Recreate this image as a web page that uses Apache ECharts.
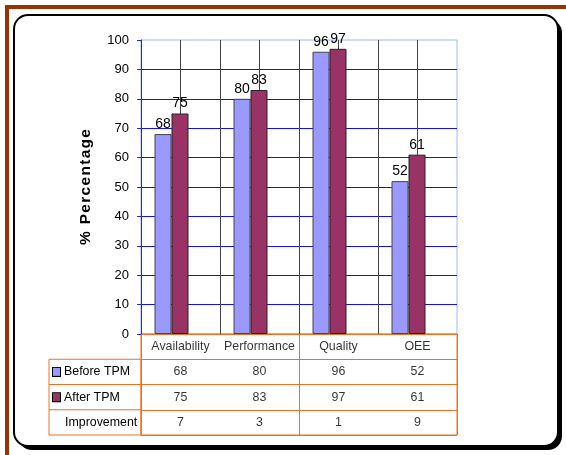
<!DOCTYPE html>
<html>
<head>
<meta charset="utf-8">
<script src="https://cdn.jsdelivr.net/npm/echarts@6/dist/echarts.min.js"></script>
<style>
html, body { margin: 0; padding: 0; background: #fff; }
#main { width: 566px; height: 455px; }
</style>
</head>
<body>
<div id="main"></div>
<script>
// chart data
var categories = ['Availability', 'Performance', 'Quality', 'OEE'];
var beforeTPM = [68, 80, 96, 52];
var afterTPM = [75, 83, 97, 61];
var improvement = [7, 3, 1, 9];
var rowNames = ['Header', 'Before TPM', 'After TPM', 'Improvement'];
var yMin = 0, yMax = 100, yStep = 10;
var yTitle = '% Percentage';

var FONT = "'Liberation Sans', Arial, sans-serif";
var FS_TABLE = 12.4;
var FS_TICK = 13;
var FS_BAR = 14;
var ORANGE = '#f07020';
var BLUE_BAR = '#9999ff';
var PURPLE_BAR = '#993366';

// layout
var gLeft = 141, gTop = 40, gWidth = 316, gHeight = 294;
var tTop = gTop + gHeight, tHeight = 101, legendLeft = 49;
var rowH = tHeight / rowNames.length;

var chart = echarts.init(document.getElementById('main'));

// table cells (header row = category names, then values)
var cells = [];
for (var i = 0; i < categories.length; i++) {
	cells.push([categories[i], rowNames[0], categories[i]]);
	cells.push([categories[i], rowNames[1], String(beforeTPM[i])]);
	cells.push([categories[i], rowNames[2], String(afterTPM[i])]);
	cells.push([categories[i], rowNames[3], String(improvement[i])]);
}

var option = {
	animation: false,
	backgroundColor: '#fff',
	textStyle: { fontFamily: FONT },
	graphic: [
		// brown frame, top and left
		{ type: 'rect', z: -30, shape: { x: 7, y: 7, width: 620, height: 520 },
			style: { fill: 'none', stroke: '#993300', lineWidth: 4 } },
		// rounded box with shadow
		{ type: 'rect', z: -20, shape: { x: 18, y: 19, width: 544, height: 431, r: 14 },
			style: { fill: '#000' } },
		{ type: 'rect', z: -10, shape: { x: 14, y: 15, width: 544, height: 431, r: 14 },
			style: { fill: '#fff', stroke: '#000', lineWidth: 2 } },
		// legend column of the data table
		{ type: 'rect', z: 10, shape: { x: legendLeft, y: tTop + rowH, width: gLeft - legendLeft, height: tHeight - rowH },
			style: { fill: 'none', stroke: ORANGE, lineWidth: 1 } },
		{ type: 'line', z: 10, shape: { x1: legendLeft, y1: tTop + rowH * 2, x2: gLeft, y2: tTop + rowH * 2 },
			style: { stroke: ORANGE, lineWidth: 1 } },
		{ type: 'line', z: 10, shape: { x1: legendLeft, y1: tTop + rowH * 3, x2: gLeft, y2: tTop + rowH * 3 },
			style: { stroke: ORANGE, lineWidth: 1 } }
	],
	grid: [{
		left: gLeft, top: gTop, width: gWidth, height: gHeight,
		show: true, borderColor: '#99bbff', borderWidth: 1,
		outerBoundsMode: 'none'
	}, {
		left: gLeft, top: tTop, width: gWidth, height: tHeight,
		show: true, borderColor: ORANGE, borderWidth: 1,
		outerBoundsMode: 'none'
	}],
	xAxis: [{
		type: 'category', gridIndex: 0, data: categories,
		axisLine: { show: false }, axisTick: { show: false }, axisLabel: { show: false },
		splitLine: { show: false }
	}, {
		// half-category vertical grid lines
		type: 'value', gridIndex: 0, min: 0, max: categories.length * 2, interval: 1,
		axisLine: { show: false }, axisTick: { show: false }, axisLabel: { show: false },
		splitLine: { show: true, showMinLine: false, showMaxLine: false, lineStyle: { color: '#444', width: 1 } }
	}, {
		type: 'category', gridIndex: 1, data: categories,
		axisLine: { show: false }, axisTick: { show: false }, axisLabel: { show: false },
		splitLine: { show: true, lineStyle: { color: ORANGE, width: 1 } }
	}],
	yAxis: [{
		type: 'value', gridIndex: 0, min: yMin, max: yMax, interval: yStep,
		name: yTitle.split('').join('\u200A'),
		nameLocation: 'middle', nameGap: 47, nameRotate: 90,
		nameTextStyle: { fontFamily: FONT, fontSize: 15.5, fontWeight: 'bold', color: '#000' },
		axisLine: { show: true, lineStyle: { color: '#2020ff', width: 1 } },
		axisTick: { show: true, inside: false, length: 4, lineStyle: { color: '#2020ff' } },
		axisLabel: { color: '#000', fontSize: FS_TICK, fontFamily: FONT, margin: 12 },
		splitLine: { show: true, showMaxLine: false, lineStyle: { color: '#1010ff', width: 1 } }
	}, {
		type: 'category', gridIndex: 1, data: rowNames, inverse: true,
		axisLine: { show: false }, axisTick: { show: false },
		splitLine: { show: true, lineStyle: { color: ORANGE, width: 1 } },
		axisLabel: {
			align: 'left', margin: gLeft - 53,
			formatter: function (v, idx) {
				if (idx === 0) return '';
				if (idx === 1) return '{sb|}{t|' + v + '}';
				if (idx === 2) return '{sa|}{t|' + v + '}';
				return '{sn|}{t|' + v + '}';
			},
			rich: {
				sb: { width: 7, height: 8, backgroundColor: BLUE_BAR, borderColor: '#000', borderWidth: 1 },
				sa: { width: 7, height: 8, backgroundColor: PURPLE_BAR, borderColor: '#000', borderWidth: 1 },
				sn: { width: 8, height: 8 },
				t: { fontFamily: FONT, fontSize: FS_TABLE, color: '#000', padding: [0, 0, 0, 4] }
			}
		}
	}],
	series: [{
		name: 'Before TPM', type: 'bar', xAxisIndex: 0, yAxisIndex: 0,
		data: beforeTPM, barWidth: 17, barGap: '0%',
		itemStyle: { color: BLUE_BAR, borderColor: '#444', borderWidth: 1 },
		label: { show: true, position: 'top', distance: 3, color: '#000', fontSize: FS_BAR, fontFamily: FONT }
	}, {
		name: 'After TPM', type: 'bar', xAxisIndex: 0, yAxisIndex: 0,
		data: afterTPM, barWidth: 17, barGap: '0%',
		itemStyle: { color: PURPLE_BAR, borderColor: '#222', borderWidth: 1 },
		label: { show: true, position: 'top', distance: 3, color: '#000', fontSize: FS_BAR, fontFamily: FONT }
	}, {
		// empty slot so the pair sits left of the category centre
		name: 'spacer', type: 'bar', xAxisIndex: 0, yAxisIndex: 0,
		data: ['-', '-', '-', '-'], barWidth: 18, barGap: '0%'
	}, {
		name: 'table', type: 'scatter', xAxisIndex: 2, yAxisIndex: 1,
		data: cells, symbolSize: 1,
		itemStyle: { color: 'rgba(0,0,0,0)' },
		label: {
			show: true, position: 'inside', color: '#000', fontSize: FS_TABLE, fontFamily: FONT,
			formatter: function (p) { return p.value[2]; }
		}
	}]
};

chart.setOption(option);
</script>
</body>
</html>
